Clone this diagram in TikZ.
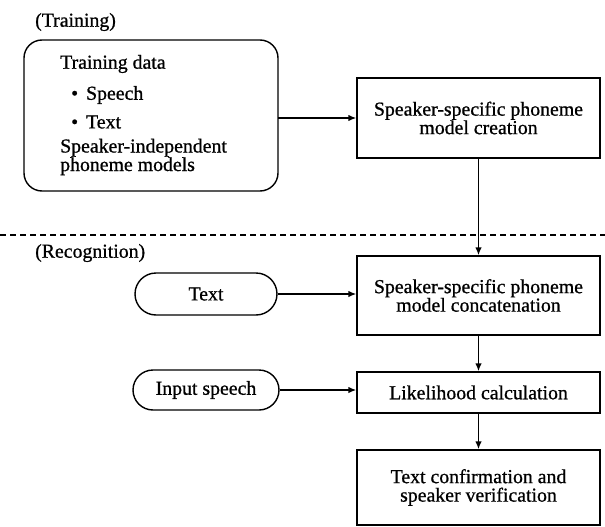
\documentclass[tikz,border=0pt]{standalone}
\usepackage{fontspec}
\setmainfont[FakeBold=0.8]{Liberation Serif}
\usetikzlibrary{arrows.meta,shapes.misc}
\begin{document}
\begin{tikzpicture}[x=1pt,y=-1pt,
  every node/.style={font=\fontsize{19.8}{18.5}\selectfont},
  box/.style={draw,line width=1.4pt,minimum width=243pt,align=center,inner sep=0pt},
  pill/.style={draw,line width=1.4pt,rounded rectangle,inner sep=0pt},
  lbl/.style={anchor=west,inner sep=0pt},
  arr/.style={line width=1.4pt,-{Latex[length=8pt,width=6.5pt]}}]
\useasboundingbox (0,0) rectangle (605,527);
% training
\node[lbl] (trlbl) at (35,22) {(Training)};
\draw[line width=1.4pt,rounded corners=18pt] (24,40) rectangle (278,191);
\coordinate (tdr) at (278,118);
\node[lbl] (td) at (60,64) {Training data};
\node[lbl] (b1) at (71,95) {•\hspace{8pt}Speech};
\node[lbl] (b2) at (71,122) {•\hspace{8pt}Text};
\node[lbl,align=left] (si) at (60,157) {Speaker-independent\\phoneme models};
\node[box,minimum height=80pt] (create) at (478.5,118) {Speaker-specific phoneme\\model creation};
\draw[arr] (tdr) -- (create.west);
% divider
\draw[line width=1.4pt,dash pattern=on 6pt off 4pt] (0,235) -- (605,235);
\node[lbl] (reclbl) at (35,253) {(Recognition)};
\node[box,minimum height=79pt] (concat) at (478.5,295.5) {Speaker-specific phoneme\\model concatenation};
\draw[arr] (create.south) -- (concat.north);
\node[pill,minimum width=142pt,minimum height=42pt] (text) at (206,294) {Text};
\draw[arr] (text.east) -- (text.east -| concat.west);
\node[box,minimum height=41pt] (lik) at (478.5,392.5) {Likelihood calculation};
\draw[arr] (concat.south) -- (lik.north);
\node[pill,minimum width=146pt,minimum height=40pt] (speech) at (206,390) {Input speech};
\draw[arr] (speech.east) -- (speech.east -| lik.west);
\node[box,minimum height=75pt] (conf) at (478.5,487.5) {Text confirmation and\\speaker verification};
\draw[arr] (lik.south) -- (conf.north);
\end{tikzpicture}
\end{document}
